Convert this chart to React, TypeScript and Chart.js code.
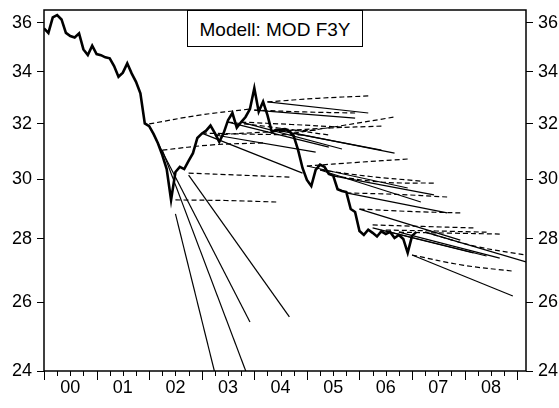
import React, { useEffect, useRef } from 'react';
import { Chart, registerables } from 'chart.js';

Chart.register(...registerables);

// ---- data ----
const actualStartYear = 2000; // monthly observations from 2000M01
const actualValues = [
  35.77, 35.58, 36.23, 36.32, 36.14, 35.58, 35.45, 35.39, 35.56, 34.90, 34.67, 35.05,
  34.71, 34.67, 34.58, 34.54, 34.23, 33.81, 33.97, 34.34, 33.94, 33.61, 33.16, 32.02,
  31.92, 31.63, 31.29, 30.86, 30.36, 29.29, 30.26, 30.44, 30.36, 30.65, 30.93, 31.48,
  31.64, 31.75, 31.94, 31.66, 31.34, 31.66, 32.14, 32.41, 31.86, 32.07, 32.26, 32.56,
  33.36, 32.46, 32.84, 32.33, 31.70, 31.78, 31.79, 31.81, 31.73, 31.55, 31.04, 30.40,
  29.98, 29.77, 30.33, 30.52, 30.44, 30.19, 30.13, 29.66, 29.60, 29.56, 28.98, 28.88,
  28.25, 28.12, 28.29, 28.19, 28.07, 28.24, 28.15, 28.22, 28.02, 28.12, 27.99, 27.54,
  28.09, 28.22,
];

// forecast windows: first and last forecast month (as fractional years)
const forecastStartYears = [
  2002.0, 2002.25, 2002.5, 2002.75, 2003.0, 2003.25, 2003.5, 2003.75, 2004.0, 2004.25, 2004.5,
  2004.75, 2005.0, 2005.25, 2005.5, 2005.75, 2006.0, 2006.25, 2006.5, 2006.75, 2007.0, 2007.25,
];
const forecastEndYears = [
  2003.917, 2004.167, 2004.417, 2004.667, 2004.917, 2005.167, 2005.417, 2005.667, 2005.917, 2006.167, 2006.417,
  2006.667, 2006.917, 2007.167, 2007.417, 2007.667, 2007.917, 2008.167, 2008.417, 2008.667, 2008.917, 2009.167,
];

// solid forecasts (start, end)
const solidStart = [
  31.92, 31.04, 28.82, 30.15, 31.66, 31.59, 32.07, 32.07, 32.52, 32.83, 31.74,
  31.66, 30.47, 30.33, 30.12, 29.53, 28.98, 28.35, 28.25, 28.21, 27.47, 28.21,
];
const solidEnd = [
  25.41, 22.75, 17.94, 25.56, 30.22, 30.97, 31.15, 31.08, 32.22, 32.41, 31.04,
  30.93, 29.70, 29.22, 29.46, 28.85, 27.95, 27.54, 27.44, 27.37, 26.19, 27.25,
];

// dashed forecasts (start, middle, end)
const dashedStart = [
  32.00, 31.04, 29.29, 30.22, 31.66, 31.59, 32.07, 32.07, 32.52, 32.83, 31.74,
  31.66, 30.47, 30.33, 30.12, 29.53, 28.98, 28.45, 28.28, 28.21, 27.47, 28.21,
];
const dashedMid = [
  32.33, 31.23, 29.27, 30.15, 31.62, 31.70, 31.85, 31.98, 32.45, 32.97, 31.85,
  31.95, 30.60, 30.10, 29.90, 29.48, 28.90, 28.40, 28.25, 28.18, 27.15, 27.75,
];
const dashedEnd = [
  32.56, 31.30, 29.22, 30.08, 31.59, 31.77, 31.59, 31.88, 32.41, 33.06, 31.92,
  32.26, 30.72, 29.94, 29.87, 29.39, 28.85, 28.35, 28.21, 28.15, 26.96, 27.47,
];

const xMin = 2000.0;
const xMax = 2009.167;
const xTickYears = [2000.5, 2001.5, 2002.5, 2003.5, 2004.5, 2005.5, 2006.5, 2007.5, 2008.5];
const xTickLabels = ['00', '01', '02', '03', '04', '05', '06', '07', '08'];
const yMin = 24;
const yMax = 36.54;
const yTickValues = [24, 26, 28, 30, 32, 34, 36];
const legendText = 'Modell: MOD F3Y';

const FONT = "'Liberation Sans', Arial, Helvetica, sans-serif";

const framePlugin = {
  id: 'frameAndTicks',
  afterDraw(chart: any) {
    const { ctx, chartArea: a, scales } = chart;
    const xs = scales.x;
    ctx.save();
    ctx.strokeStyle = '#000';
    ctx.lineWidth = 1.5;
    ctx.strokeRect(a.left, a.top, a.right - a.left, a.bottom - a.top);
    ctx.lineWidth = 1;
    const startQ = Math.ceil(xs.min * 4);
    const endQ = Math.floor(xs.max * 4);
    for (let q = startQ; q <= endQ; q++) {
      const px = Math.round(xs.getPixelForValue(q / 4)) + 0.5;
      const len = q % 4 === 0 ? 9 : 5;
      ctx.beginPath();
      ctx.moveTo(px, a.bottom);
      ctx.lineTo(px, a.bottom + len);
      ctx.stroke();
    }
    ctx.restore();
  },
};

export default function App() {
  const canvasRef = useRef<HTMLCanvasElement | null>(null);

  useEffect(() => {
    if (!canvasRef.current) return;

    const datasets: any[] = [];
    datasets.push({
      label: 'actual',
      data: actualValues.map((v, i) => ({ x: actualStartYear + i / 12, y: v })),
      borderColor: '#000',
      borderWidth: 2.6,
      pointRadius: 0,
      tension: 0,
      order: 0,
    });
    forecastStartYears.forEach((s, k) => {
      const e = forecastEndYears[k];
      datasets.push({
        label: 'solid' + k,
        data: [
          { x: s, y: solidStart[k] },
          { x: e, y: solidEnd[k] },
        ],
        borderColor: '#000',
        borderWidth: 1.2,
        pointRadius: 0,
        tension: 0,
        order: 1,
      });
      datasets.push({
        label: 'dashed' + k,
        data: [
          { x: s, y: dashedStart[k] },
          { x: (s + e) / 2, y: dashedMid[k] },
          { x: e, y: dashedEnd[k] },
        ],
        borderColor: '#000',
        borderWidth: 1.2,
        borderDash: [5, 3],
        pointRadius: 0,
        tension: 0.4,
        order: 1,
      });
    });

    const yTickCfg = {
      color: '#000',
      font: { family: FONT, size: 18 },
      padding: 5,
      callback: (v: any) => String(v),
    };

    const yFit = (w: number) => (scale: any) => {
      scale.width = w;
      scale.paddingTop = 0;
      scale.paddingBottom = 0;
    };

    const chart = new Chart(canvasRef.current, {
      type: 'line',
      data: { datasets },
      plugins: [framePlugin],
      options: {
        responsive: false,
        animation: false,
        devicePixelRatio: 1,
        layout: { padding: { top: 10, left: 0, right: 0, bottom: 0 } },
        plugins: { legend: { display: false }, tooltip: { enabled: false }, title: { display: false } },
        scales: {
          x: {
            type: 'linear',
            position: 'bottom',
            min: xMin,
            max: xMax,
            grid: { display: false, drawTicks: false },
            border: { display: false },
            afterBuildTicks: (scale: any) => {
              scale.ticks = xTickYears.map((v) => ({ value: v }));
            },
            afterFit: (scale: any) => {
              scale.height = 37;
              scale.paddingLeft = 0;
              scale.paddingRight = 0;
            },
            ticks: {
              color: '#000',
              font: { family: FONT, size: 18 },
              padding: 6,
              maxRotation: 0,
              autoSkip: false,
              callback: (v: any) => {
                const idx = xTickYears.indexOf(Number(v));
                return idx >= 0 ? xTickLabels[idx] : '';
              },
            },
          },
          y: {
            type: 'logarithmic',
            position: 'left',
            min: yMin,
            max: yMax,
            grid: { display: true, drawOnChartArea: false, drawTicks: true, tickLength: 7, color: '#000', lineWidth: 1 },
            border: { display: false },
            afterBuildTicks: (scale: any) => {
              scale.ticks = yTickValues.map((v) => ({ value: v }));
            },
            afterFit: yFit(44),
            ticks: yTickCfg,
          },
          y2: {
            type: 'logarithmic',
            position: 'right',
            min: yMin,
            max: yMax,
            grid: { display: true, drawOnChartArea: false, drawTicks: true, tickLength: 7, color: '#000', lineWidth: 1 },
            border: { display: false },
            afterBuildTicks: (scale: any) => {
              scale.ticks = yTickValues.map((v) => ({ value: v }));
            },
            afterFit: yFit(33),
            ticks: yTickCfg,
          },
        },
      } as any,
    });

    return () => chart.destroy();
  }, []);

  return (
    <div style={{ position: 'fixed', left: 0, top: 0, width: 559, height: 408, background: '#fff' }}>
      <canvas ref={canvasRef} width={559} height={408} style={{ display: 'block' }} />
      <div
        style={{
          position: 'absolute',
          left: 187,
          top: 10,
          width: 176,
          height: 37,
          boxSizing: 'border-box',
          border: '1px solid #000',
          background: '#fff',
          fontFamily: FONT,
          fontSize: 19,
          color: '#000',
          display: 'flex',
          alignItems: 'center',
          justifyContent: 'center',
          paddingTop: 3,
        }}
      >
        {legendText}
      </div>
    </div>
  );
}
